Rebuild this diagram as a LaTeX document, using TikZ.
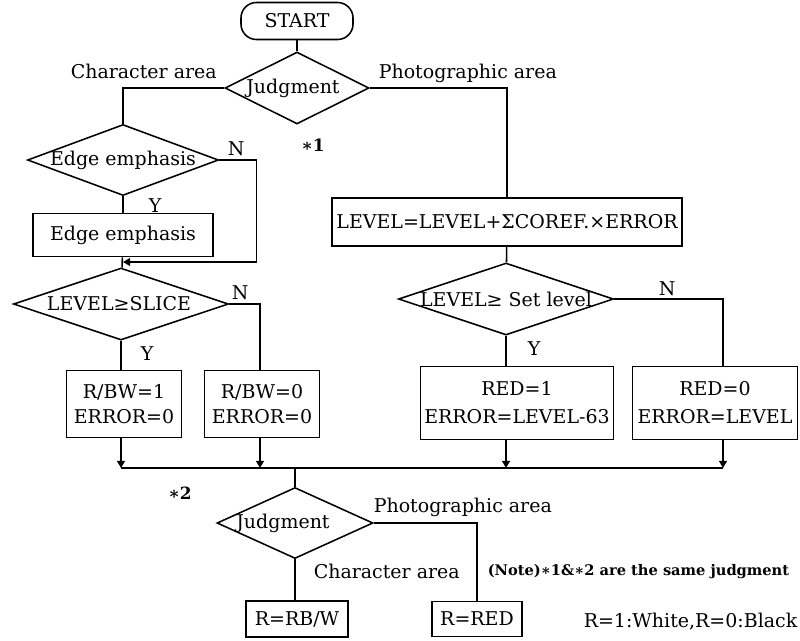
\documentclass[tikz,border=0pt]{standalone}
\usepackage{fontspec}
\setmainfont{DejaVu Serif}
\usetikzlibrary{arrows.meta, shapes.geometric}

\begin{document}
\begin{tikzpicture}[
    x=0.025cm, y=-0.025cm,
    >={Triangle[length=5pt, width=5.5pt]},
    line width=1.1pt,
    font=\fontsize{13.5}{18}\selectfont,
    proc/.style={draw, inner sep=0pt, align=center},
    decision/.style={draw, diamond, inner sep=0pt},
    tag/.style={inner sep=0pt, anchor=base west},
    yn/.style={inner sep=0pt, anchor=base west},
    star/.style={font=\fontsize{12}{14}\selectfont\bfseries},
    note/.style={inner sep=0pt, anchor=base west,
                 font=\fontsize{10.4}{12}\selectfont\bfseries}
  ]
  \useasboundingbox (0,0) rectangle (800,640);

  % Start and first judgment
  \node[proc, rounded corners=11pt, minimum width=2.8cm,
        minimum height=0.925cm] (start) at (297,21) {START};
  \node[decision, minimum width=3.6cm, minimum height=1.8cm,
        label={[xshift=-0.1cm]center:Judgment}] (judge1) at (297,88) {};

  % Character area branch
  \node[decision, minimum width=4.775cm, minimum height=1.775cm,
        label=center:Edge emphasis] (edgeq) at (123,160) {};
  \node[proc, minimum width=4.5cm, minimum height=1.075cm] (edgebox)
    at (123,235) {Edge emphasis};
  \coordinate (merge) at (123,262);
  \node[decision, minimum width=5.375cm, minimum height=1.8cm,
        label={[xshift=-0.05cm]center:LEVEL≥SLICE}] (sliceq) at (121,304) {};
  \node[proc, minimum width=2.875cm, minimum height=1.675cm] (bw1)
    at (124,404) {R/BW=1\\ERROR=0};
  \node[proc, minimum width=2.875cm, minimum height=1.675cm] (bw0)
    at (262,404) {R/BW=0\\ERROR=0};

  % Photographic area branch
  \node[proc, minimum width=8.75cm, minimum height=1.2cm] (levelbox)
    at (507,222) {LEVEL=LEVEL+ΣCOREF.×ERROR};
  \node[decision, minimum width=5.375cm, minimum height=1.8cm,
        label=center:LEVEL≥ Set level] (setq) at (506,299) {};
  \node[proc, minimum width=4.825cm, minimum height=1.825cm] (red1)
    at (517,403) {RED=1\\[2pt]ERROR=LEVEL-63};
  \node[proc, minimum width=4.125cm, minimum height=1.825cm] (red0)
    at (715,403) {RED=0\\[2pt]ERROR=LEVEL};

  % Second judgment
  \coordinate (bus) at (295,468);
  \node[decision, minimum width=3.9cm, minimum height=1.775cm,
        label={[xshift=-0.3cm]center:Judgment}] (judge2) at (295,523) {};
  \node[proc, minimum width=2.55cm, minimum height=0.9cm] (outbw)
    at (297,619) {R=RB/W};
  \node[proc, minimum width=2.25cm, minimum height=0.875cm] (outred)
    at (477,619) {R=RED};

  % Connectors
  \draw (start) -- (judge1);
  \draw (judge1.west) -| (edgeq.north);
  \draw (judge1.east) -| (levelbox.north);
  \draw (edgeq) -- (edgebox);
  \draw (edgebox) -- (sliceq);
  \draw[->] (edgeq.east) -- ++(37,0) |- (merge);
  \draw (sliceq.east) -| ([xshift=-0.05cm]bw0.north);
  \draw (sliceq.south) -- (sliceq.south |- bw1.north);
  \draw (levelbox) -- (setq);
  \draw (setq.east) -| ([xshift=0.2cm]red0.north);
  \draw (setq.south) -- (setq.south |- red1.north);

  % Arrows down to the common line
  \draw[->] ([xshift=-0.075cm]bw1.south) -- ([xshift=-0.075cm]bw1.south |- bus);
  \draw[->] ([xshift=-0.05cm]bw0.south) -- ([xshift=-0.05cm]bw0.south |- bus);
  \draw[->] (setq.south |- red1.south) -- (setq.south |- bus);
  \draw[->] ([xshift=0.2cm]red0.south) -- ([xshift=0.2cm]red0.south |- bus);
  \draw ([xshift=-0.075cm]bw1.south |- bus) -- ([xshift=0.2cm]red0.south |- bus);
  \draw (bus) -- (judge2);
  \draw (judge2.south) -- (judge2.south |- outbw.north);
  \draw (judge2.east) -| (outred.north);

  % Labels
  \node[tag] (char1) at (70,78) {Character area};
  \node[tag] (photo1) at (378,78) {Photographic area};
  \node[star] (mark1) at (313,145) {∗1};
  \node[yn] (n1) at (227,155) {N};
  \node[yn] (y1) at (148,212) {Y};
  \node[yn] (n2) at (231,299) {N};
  \node[yn] (y2) at (140,360) {Y};
  \node[yn] (n3) at (658,295) {N};
  \node[yn] (y3) at (527,355) {Y};
  \node[star] (mark2) at (180,493) {∗2};
  \node[tag] (photo2) at (373,512) {Photographic area};
  \node[tag] (char2) at (313,578) {Character area};
  \node[note] (remark) at (487,575) {(Note)∗1\&∗2 are the same judgment};
  \node[tag] (legend) at (583,627) {R=1:White,R=0:Black};
\end{tikzpicture}
\end{document}
